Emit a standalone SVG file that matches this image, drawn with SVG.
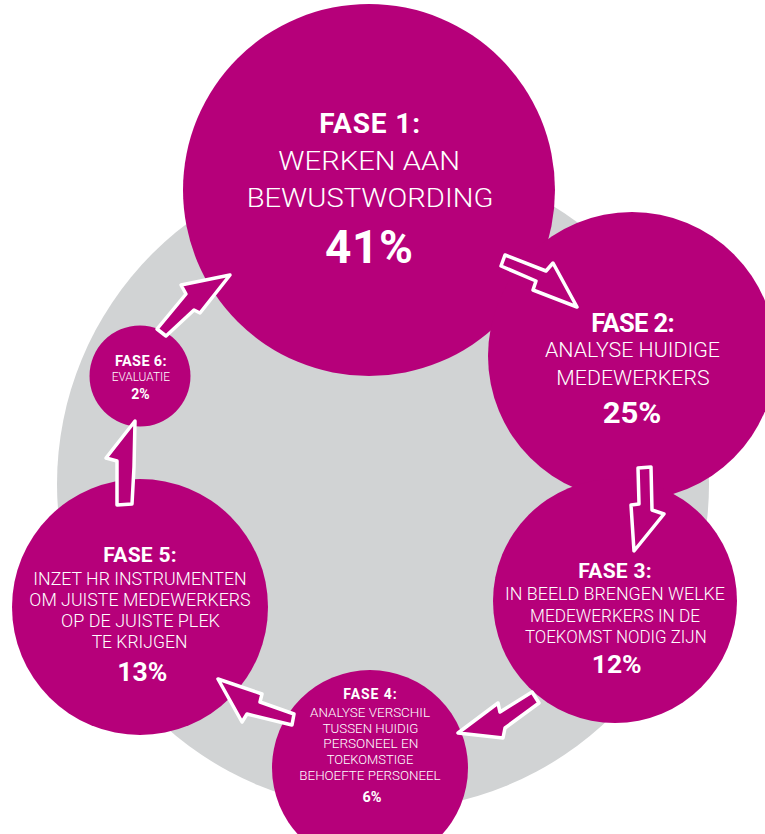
<svg xmlns="http://www.w3.org/2000/svg" width="765" height="834" viewBox="0 0 765 834">
  <style>
    .bg { fill: #ffffff; }
    .ring { fill: #d1d3d4; }
    .phase { fill: #b6007a; }
    .arrow { fill: #b6007a; stroke: #ffffff; stroke-width: 3.5; stroke-linejoin: round; }
    text { fill: #ffffff; font-family: Roboto, "Liberation Sans", "DejaVu Sans", sans-serif; text-anchor: middle; }
    .t { font-weight: 700; }
    .b { font-weight: 300; }
    .p { font-weight: 700; }
  </style>

  <rect class="bg" x="0" y="0" width="765" height="834"/>

  <!-- grey cycle backdrop -->
  <circle class="ring" cx="383" cy="484" r="326"/>

  <!-- phase 1 -->
  <g id="fase1">
    <circle class="phase" cx="369" cy="190" r="186"/>
    <text class="t" x="369.7" y="133.3" font-size="28" textLength="100.7" lengthAdjust="spacing">FASE 1:</text>
    <text class="b" x="369.2" y="170" font-size="26" textLength="181.7" lengthAdjust="spacingAndGlyphs">WERKEN AAN</text>
    <text class="b" x="370" y="206.7" font-size="26" textLength="246.7" lengthAdjust="spacingAndGlyphs">BEWUSTWORDING</text>
    <text class="p" x="369" y="263.3" font-size="46" textLength="88" lengthAdjust="spacing">41%</text>
  </g>

  <!-- phase 2 -->
  <g id="fase2">
    <circle class="phase" cx="632" cy="356" r="144"/>
    <text class="t" x="633" y="331.7" font-size="25.5" textLength="83.3" lengthAdjust="spacing">FASE 2:</text>
    <text class="b" x="632.5" y="356.7" font-size="21" textLength="175" lengthAdjust="spacingAndGlyphs">ANALYSE HUIDIGE</text>
    <text class="b" x="633" y="385" font-size="21" textLength="153.3" lengthAdjust="spacingAndGlyphs">MEDEWERKERS</text>
    <text class="p" x="632" y="423.3" font-size="30" textLength="58.7" lengthAdjust="spacingAndGlyphs">25%</text>
  </g>

  <!-- phase 3 -->
  <g id="fase3">
    <circle class="phase" cx="615" cy="601" r="122"/>
    <text class="t" x="615" y="578.3" font-size="21" textLength="73.3" lengthAdjust="spacing">FASE 3:</text>
    <text class="b" x="615" y="600" font-size="18.7" textLength="220" lengthAdjust="spacingAndGlyphs">IN BEELD BRENGEN WELKE</text>
    <text class="b" x="615" y="621.7" font-size="18.7" textLength="170" lengthAdjust="spacingAndGlyphs">MEDEWERKERS IN DE</text>
    <text class="b" x="615.8" y="643.3" font-size="18.7" textLength="181.7" lengthAdjust="spacingAndGlyphs">TOEKOMST NODIG ZIJN</text>
    <text class="p" x="616.7" y="673.3" font-size="25.7" textLength="50" lengthAdjust="spacingAndGlyphs">12%</text>
  </g>

  <!-- phase 4 -->
  <g id="fase4">
    <circle class="phase" cx="370" cy="768" r="98"/>
    <text class="t" x="370" y="699.3" font-size="14" textLength="53.3" lengthAdjust="spacing">FASE 4:</text>
    <text class="b" x="370" y="716.5" font-size="12.7" textLength="120" lengthAdjust="spacingAndGlyphs">ANALYSE VERSCHIL</text>
    <text class="b" x="370.5" y="732.7" font-size="12.7" textLength="95.7" lengthAdjust="spacingAndGlyphs">TUSSEN HUIDIG</text>
    <text class="b" x="370.8" y="748.3" font-size="12.7" textLength="95" lengthAdjust="spacingAndGlyphs">PERSONEEL EN</text>
    <text class="b" x="370" y="764" font-size="12.7" textLength="86.7" lengthAdjust="spacingAndGlyphs">TOEKOMSTIGE</text>
    <text class="b" x="370" y="780" font-size="12.7" textLength="141.3" lengthAdjust="spacingAndGlyphs">BEHOEFTE PERSONEEL</text>
    <text class="p" x="372" y="801.7" font-size="14.5">6%</text>
  </g>

  <!-- phase 5 -->
  <g id="fase5">
    <circle class="phase" cx="140" cy="607" r="128"/>
    <text class="t" x="140" y="561.7" font-size="21" textLength="73.3" lengthAdjust="spacing">FASE 5:</text>
    <text class="b" x="140" y="585" font-size="18.7" textLength="213.3" lengthAdjust="spacingAndGlyphs">INZET HR INSTRUMENTEN</text>
    <text class="b" x="140" y="605.7" font-size="18.7" textLength="221.3" lengthAdjust="spacingAndGlyphs">OM JUISTE MEDEWERKERS</text>
    <text class="b" x="140.5" y="627.3" font-size="18.7" textLength="159" lengthAdjust="spacingAndGlyphs">OP DE JUISTE PLEK</text>
    <text class="b" x="139.5" y="648.3" font-size="18.7" textLength="95.7" lengthAdjust="spacingAndGlyphs">TE KRIJGEN</text>
    <text class="p" x="142.3" y="680.7" font-size="26.7" textLength="50" lengthAdjust="spacingAndGlyphs">13%</text>
  </g>

  <!-- phase 6 -->
  <g id="fase6">
    <circle class="phase" cx="140" cy="376" r="50.5"/>
    <text class="t" x="140.8" y="365.5" font-size="14.5" textLength="51.7" lengthAdjust="spacing">FASE 6:</text>
    <text class="b" x="140.8" y="380.5" font-size="12" textLength="58.3" lengthAdjust="spacingAndGlyphs">EVALUATIE</text>
    <text class="p" x="140.5" y="399.3" font-size="14">2%</text>
  </g>

  <!-- connectors between the phases -->
  <g id="connectors">
    <polygon class="arrow" points="505,255 546,271 553,263 577,307 533,290 536,281 501,266"/>
    <polygon class="arrow" points="638,468 651,467 652,510 664,514 634,551 631,505 639,504"/>
    <polygon class="arrow" points="532,692 500,712 498,703 458,733 503,738 505,728 539,703"/>
    <polygon class="arrow" points="218,679 262,694 260,702 294,714 292,725 247,714 242,722"/>
    <polygon class="arrow" points="135,421 106,458 117,461 117,505 132,504 134,467"/>
    <polygon class="arrow" points="157,329 186,294 181,285 230,275 200,313 194,310 166,336"/>
  </g>
</svg>
